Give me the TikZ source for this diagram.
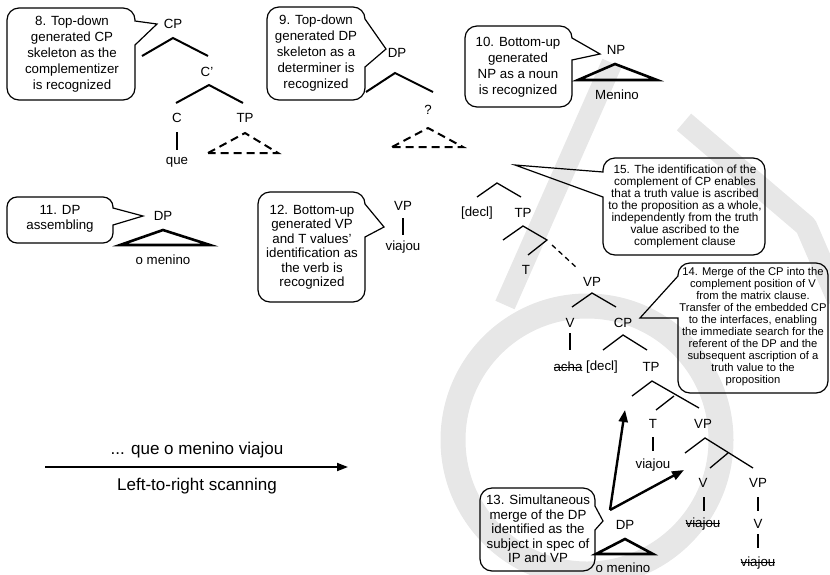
\documentclass[tikz,border=0pt]{standalone}
\usepackage{fontspec}
\setmainfont{Liberation Sans}
\usetikzlibrary{arrows.meta}
\definecolor{wmgrey}{RGB}{231,231,231}
\newsavebox\strkbox
\newcommand\struck[1]{\sbox\strkbox{#1}\rlap{\rule[0.27em]{\wd\strkbox}{0.075em}}\usebox\strkbox}
\begin{document}
\begin{tikzpicture}[x=1pt,y=-1pt,
  lbl/.style={font=\fontsize{13.3}{16}\selectfont, inner sep=0pt},
  bubtext/.style={align=center, inner sep=0pt},
  bubble/.style={draw, line width=1.2pt, rounded corners=12pt},
  br/.style={line width=2pt},
  lbr/.style={line width=1.3pt},
  stem/.style={line width=2.2pt},
  tri/.style={line width=2.6pt, line join=miter},
  dtri/.style={line width=2pt, dash pattern=on 8pt off 5pt},
  mv/.style={line width=2.4pt, -{Triangle[length=12pt,width=9pt]}},
  wm/.style={draw=wmgrey},
]
\useasboundingbox (0,0) rectangle (830,574);

% background logo strokes
\draw[wm, line width=25pt] (587,440) circle[radius=134];
\draw[wm, line width=21pt] (612,63) -- (505,305);
\draw[wm, line width=22pt, line join=round] (684,122) -- (806,226) -- (838,300);

% ---- 8: CP skeleton
\node[bubtext, font=\fontsize{13.3}{15.8}\selectfont] (t8) at (72,54)
  {8. Top-down\\generated CP\\skeleton as the\\complementizer\\is recognized};
\draw[bubble] (70,8) -- (135,8) [sharp corners] -- (135,21) -- (157,24) -- (135,45)
  [rounded corners=12pt] -- (135,100) -- (7,100) -- (7,8) -- cycle;
\node[lbl] (cp8) at (173,24) {CP};
\node[lbl] (cbar) at (207,72) {C’};
\node[lbl] (c8) at (177,118) {C};
\node[lbl] (tp8) at (245,118) {TP};
\node[lbl] (que) at (177,162) {que};
\draw[br] (142,56) -- (173,38) -- (208,56);
\draw[br] (176,103) -- (209,85) -- (243,103);
\draw[stem] (177,132) -- (177,150);
\draw[dtri] (208,153) -- (245,133) -- (278,153) -- cycle;

% ---- 9: DP skeleton
\node[bubtext, font=\fontsize{13.3}{16}\selectfont] (t9) at (316,53)
  {9. Top-down\\generated DP\\skeleton as a\\determiner is\\recognized};
\draw[bubble] (316,7) -- (365,7) [sharp corners] -- (365,19) -- (386,49) -- (365,67)
  [rounded corners=12pt] -- (365,100) -- (267,100) -- (267,7) -- cycle;
\node[lbl] (dp9) at (397,53) {DP};
\node[lbl] (q9) at (428,110) {?};
\draw[br] (366,92) -- (395,73) -- (433,92);
\draw[dtri] (392,147) -- (428,128) -- (463,147) -- cycle;

% ---- 10: NP
\node[bubtext, font=\fontsize{13.3}{16}\selectfont] (t10) at (518,67)
  {10. Bottom-up\\generated\\NP as a noun\\is recognized};
\draw[bubble] (518,26) -- (572,26) [sharp corners] -- (572,38) -- (600,54) -- (572,60)
  [rounded corners=12pt] -- (572,107) -- (465,107) -- (465,26) -- cycle;
\node[lbl] (np10) at (616,50) {NP};
\draw[tri] (578,80) -- (615,64) -- (657,80) -- cycle;
\node[lbl] (menino) at (617,95) {Menino};

% ---- 11: DP assembling
\node[bubtext, font=\fontsize{13.3}{15}\selectfont] (t11) at (60,219)
  {11. DP\\assembling};
\draw[bubble, rounded corners=10pt] (60,197) -- (113,197) [sharp corners] -- (113,208) -- (143,216) -- (113,225)
  [rounded corners=10pt] -- (113,243) -- (7,243) -- (7,197) -- cycle;
\node[lbl] (dp11) at (163,216) {DP};
\draw[tri] (120,245) -- (163,230) -- (210,245) -- cycle;
\node[lbl] (om11) at (163,260) {o menino};

% ---- 12: VP
\node[bubtext, font=\fontsize{13.3}{14.5}\selectfont] (t12) at (312,247)
  {12. Bottom-up\\generated VP\\and T values’\\identification as\\the verb is\\recognized};
\draw[bubble] (312,192) -- (365,192) [sharp corners] -- (365,204) -- (384,227) -- (365,237)
  [rounded corners=12pt] -- (365,302) -- (258,302) -- (258,192) -- cycle;
\node[lbl] (vp12) at (403,206) {VP};
\draw[stem] (403,218) -- (403,235);
\node[lbl] (vj12) at (403,247) {viajou};

% ---- matrix clause
\draw[lbr] (477,197) -- (497,183) -- (521,197);
\node[lbl] (decl1) at (477,213) {[decl]};
\node[lbl] (tp1) at (523,213) {TP};
\draw[lbr] (503,240) -- (523,226) -- (547,240) -- (528,255);
\draw[lbr, dash pattern=on 5pt off 4pt] (552,245) -- (577,268);
\node[lbl] (t1) at (526,270) {T};
\node[lbl] (vp1) at (592,282) {VP};
\draw[lbr] (572,307) -- (592,293) -- (616,307);
\node[lbl] (v1) at (570,323) {V};
\node[lbl] (cp1) at (623,323) {CP};
\draw[stem] (570,333) -- (570,350);
\node[lbl] (acha) at (568,367) {\struck{acha}};
\node[lbl] (decl2) at (602,367) {[decl]};
\node[lbl] (tp2) at (651,367) {TP};
\draw[lbr] (603,350) -- (623,335) -- (647,350);
\draw[lbr] (632,396) -- (652,381) -- (699,408);
\draw[lbr] (674,396) -- (656,410);
\node[lbl] (t2) at (653,424) {T};
\draw[stem] (653,437) -- (653,451);
\node[lbl] (vj2) at (653,465) {viajou};
\node[lbl] (vp2) at (703,424) {VP};
\draw[lbr] (685,453) -- (705,438) -- (753,468);
\draw[lbr] (728,453) -- (710,468);
\node[lbl] (v2) at (703,483) {V};
\draw[stem] (704,497) -- (704,511);
\node[lbl] (vj3) at (703,524) {\struck{viajou}};
\node[lbl] (vp3) at (758,483) {VP};
\draw[stem] (758,497) -- (758,511);
\node[lbl] (v3) at (758,524) {V};
\draw[stem] (758,534) -- (758,548);
\node[lbl] (vj4) at (758,563) {\struck{viajou}};
\node[lbl] (dp2) at (625,525) {DP};
\draw[tri] (596,554) -- (625,539) -- (653,554) -- cycle;
\node[lbl] (om2) at (623,568) {o menino};

% movement of the subject DP
\coordinate (mvfrom) at (610,510);
\coordinate (mvT) at (625,410);
\coordinate (mvV) at (684,470);
\draw[mv] (mvfrom) -- (mvT);
\draw[mv] (mvfrom) -- (mvV);

% ---- 13
\node[bubtext, font=\fontsize{13.3}{14.5}\selectfont] (t13) at (538,529)
  {13. Simultaneous\\merge of the DP\\identified as the\\subject in spec of\\IP and VP};
\draw[bubble] (538,488) -- (595,488) [sharp corners] -- (595,506) -- (603,521) -- (595,530)
  [rounded corners=12pt] -- (595,571) -- (480,571) -- (480,488) -- cycle;

% ---- 15
\node[bubtext, font=\fontsize{11.8}{12}\selectfont] (t15) at (685,206)
  {15. The identification of the\\complement of CP enables\\that a truth value is ascribed\\to the proposition as a whole,\\independently from the truth\\value ascribed to the\\complement clause};
\draw[bubble] (684,158) -- (765,158) -- (765,255) -- (603,255) [sharp corners] -- (603,197)
  -- (515,165) -- (603,172) [rounded corners=12pt] -- (603,158) -- cycle;

% ---- 14
\node[bubtext, font=\fontsize{11.2}{12}\selectfont] (t14) at (753,327)
  {14. Merge of the CP into the\\complement position of V\\from the matrix clause.\\Transfer of the embedded CP\\to the interfaces, enabling\\the immediate search for the\\referent of the DP and the\\subsequent ascription of a\\truth value to the\\proposition};
\draw[bubble] (753,263) -- (828,263) -- (828,393) -- (678,393) [sharp corners] -- (678,318)
  -- (640,318) -- (678,276) [rounded corners=12pt] -- (678,263) -- cycle;

% ---- scanning direction
\coordinate (s0) at (45,467);
\coordinate (s1) at (348,467);
\draw[line width=1.8pt, -{Triangle[length=11pt,width=8pt]}] (s0) -- (s1);
\node[font=\fontsize{17}{20}\selectfont, inner sep=0pt] (scan1) at (197,450) {... que o menino viajou};
\node[font=\fontsize{17}{20}\selectfont, inner sep=0pt] (scan2) at (197,486) {Left-to-right scanning};
\end{tikzpicture}
\end{document}
